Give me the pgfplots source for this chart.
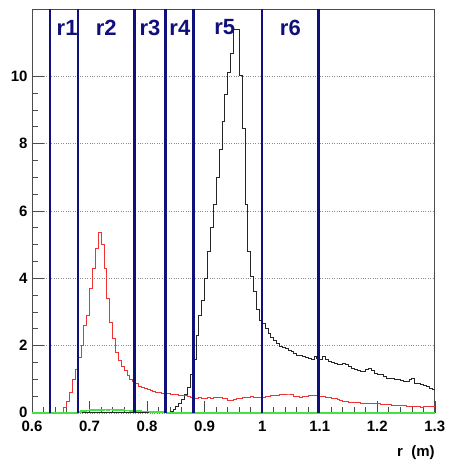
\documentclass[border=0pt]{standalone}
\usepackage{fontspec}
\setmainfont{Liberation Sans}
\usepackage{pgfplots}
\pgfplotsset{compat=1.18}
\definecolor{navyr}{RGB}{16,16,125}
\definecolor{rootred}{RGB}{240,50,50}
\definecolor{rootgreen}{RGB}{70,225,70}
\begin{document}
\begin{tikzpicture}
\begin{axis}[
  name=ax,
  scale only axis,
  width=403pt, height=404pt,
  xmin=0.6, xmax=1.3, ymin=0, ymax=12,
  axis line style={black!70, line width=0.8pt},
  xtick={0.6,0.7,0.8,0.9,1.0,1.1,1.2,1.3},
  xticklabels={0.6,0.7,0.8,0.9,1,1.1,1.2,1.3},
  ytick={0,2,4,6,8,10},
  yticklabels={0,2,4,6,8,10},
  minor x tick num=4,
  minor y tick num=3,
  tick align=inside,
  xtick pos=bottom, ytick pos=left,
  major tick length=12pt, minor tick length=6pt,
  tick style={black!70, line width=0.6pt},
  ymajorgrids,
  major grid style={black!45, dotted, line width=0.6pt},
  ticklabel style={font=\bfseries\fontsize{15}{15}\selectfont},
  xticklabel style={yshift=-5pt},
  yticklabel style={xshift=-1pt},
  clip=false,
]
% black histogram
\addplot[const plot, black!85, line width=0.8pt] table {
0.600 0
0.835 0.02
0.840 0.04
0.845 0.10
0.850 0.19
0.855 0.29
0.860 0.40
0.865 0.55
0.870 0.75
0.875 1.13
0.880 1.60
0.885 2.30
0.890 2.90
0.895 3.35
0.900 4.00
0.905 4.80
0.910 5.50
0.915 6.20
0.920 7.00
0.925 7.82
0.930 8.66
0.935 9.45
0.940 10.11
0.945 10.69
0.950 11.40
0.955 11.40
0.960 10.04
0.965 8.46
0.970 6.20
0.975 4.80
0.980 4.05
0.985 3.60
0.990 3.06
0.995 2.76
1.000 2.65
1.005 2.50
1.010 2.37
1.015 2.25
1.020 2.15
1.025 2.05
1.030 1.97
1.035 1.93
1.040 1.92
1.045 1.87
1.050 1.83
1.055 1.77
1.060 1.72
1.065 1.70
1.070 1.67
1.075 1.65
1.080 1.62
1.085 1.60
1.090 1.67
1.095 1.62
1.100 1.58
1.105 1.67
1.110 1.60
1.115 1.52
1.120 1.50
1.125 1.48
1.130 1.45
1.135 1.43
1.140 1.48
1.145 1.45
1.150 1.38
1.155 1.33
1.160 1.28
1.165 1.25
1.170 1.23
1.175 1.23
1.180 1.28
1.185 1.33
1.190 1.25
1.195 1.18
1.200 1.15
1.205 1.13
1.210 1.08
1.215 1.03
1.220 1.03
1.225 1.03
1.230 1.00
1.235 0.98
1.240 0.96
1.245 0.93
1.250 0.93
1.255 0.98
1.260 1.03
1.265 0.88
1.270 0.88
1.275 0.85
1.280 0.83
1.285 0.78
1.290 0.73
1.295 0.70
1.300 0.70
};
% red histogram
\addplot[const plot, rootred, line width=0.8pt] table {
0.600 0
0.655 0.15
0.660 0.35
0.665 0.60
0.670 1.00
0.675 1.30
0.680 1.65
0.685 2.00
0.690 2.60
0.695 2.90
0.700 3.70
0.705 4.30
0.710 4.90
0.715 5.36
0.720 5.00
0.725 4.30
0.730 3.40
0.735 2.70
0.740 2.20
0.745 1.80
0.750 1.55
0.755 1.38
0.760 1.25
0.765 1.12
0.770 1.00
0.775 0.93
0.780 0.86
0.785 0.80
0.790 0.76
0.795 0.73
0.800 0.70
0.805 0.66
0.810 0.63
0.815 0.61
0.820 0.60
0.825 0.59
0.830 0.58
0.835 0.57
0.840 0.56
0.845 0.55
0.850 0.54
0.855 0.53
0.860 0.52
0.865 0.51
0.870 0.48
0.875 0.45
0.880 0.44
0.885 0.44
0.890 0.45
0.895 0.44
0.900 0.43
0.905 0.45
0.910 0.44
0.915 0.46
0.920 0.47
0.925 0.45
0.930 0.44
0.935 0.42
0.940 0.38
0.945 0.37
0.950 0.40
0.955 0.43
0.960 0.44
0.965 0.45
0.970 0.46
0.975 0.47
0.980 0.48
0.985 0.47
0.990 0.46
0.995 0.46
1.000 0.47
1.005 0.49
1.010 0.50
1.015 0.51
1.020 0.52
1.025 0.53
1.030 0.54
1.035 0.55
1.040 0.56
1.045 0.56
1.050 0.54
1.055 0.50
1.060 0.49
1.065 0.47
1.070 0.48
1.075 0.50
1.080 0.52
1.085 0.53
1.090 0.52
1.095 0.53
1.100 0.50
1.105 0.48
1.110 0.47
1.115 0.46
1.120 0.44
1.125 0.43
1.130 0.40
1.135 0.36
1.140 0.34
1.145 0.33
1.150 0.31
1.155 0.31
1.160 0.30
1.165 0.30
1.170 0.29
1.175 0.29
1.180 0.28
1.185 0.28
1.190 0.27
1.195 0.27
1.200 0.27
1.205 0.26
1.210 0.25
1.215 0.24
1.220 0.24
1.225 0.23
1.230 0.22
1.235 0.22
1.240 0.21
1.245 0.21
1.250 0.20
1.255 0.20
1.260 0.19
1.265 0.19
1.270 0.18
1.275 0.17
1.280 0.19
1.285 0.20
1.290 0.20
1.295 0.20
1.300 0.20
};
% green histogram
\addplot[const plot, rootgreen, line width=1.6pt] table {
0.600 0
0.680 0.03
0.685 0.05
0.690 0.06
0.695 0.07
0.700 0.08
0.705 0.08
0.710 0.09
0.715 0.09
0.720 0.09
0.725 0.10
0.730 0.09
0.735 0.10
0.740 0.09
0.745 0.09
0.750 0.08
0.755 0.08
0.760 0.07
0.765 0.07
0.770 0.06
0.775 0.06
0.780 0.05
0.785 0.05
0.790 0.04
0.795 0.04
0.800 0.04
0.805 0.03
0.810 0.03
0.815 0.03
0.820 0.02
0.825 0.02
0.830 0.01
0.835 0
1.300 0
};
% region boundaries
\addplot[navyr, line width=2.5pt] coordinates {(0.631,0) (0.631,12)};
\addplot[navyr, line width=2.5pt] coordinates {(0.680,0) (0.680,12)};
\addplot[navyr, line width=2.5pt] coordinates {(0.778,0) (0.778,12)};
\addplot[navyr, line width=2.5pt] coordinates {(0.832,0) (0.832,12)};
\addplot[navyr, line width=2.5pt] coordinates {(0.881,0) (0.881,12)};
\addplot[navyr, line width=2.5pt] coordinates {(1.000,0) (1.000,12)};
\addplot[navyr, line width=2.5pt] coordinates {(1.098,0) (1.098,12)};
\begin{scope}[every node/.style={text=navyr, font=\bfseries\fontsize{22}{22}\selectfont}]
\node at (axis cs:0.661,11.45) {r1};
\node at (axis cs:0.729,11.45) {r2};
\node at (axis cs:0.805,11.45) {r3};
\node at (axis cs:0.857,11.45) {r4};
\node at (axis cs:0.935,11.45) {r5};
\node at (axis cs:1.049,11.45) {r6};
\end{scope}
\node[anchor=north east, font=\bfseries\fontsize{15}{15}\selectfont, inner sep=0pt] at ([yshift=-33pt]rel axis cs:1,0) {r\ \ (m)};
\end{axis}
\path ([xshift=-32pt,yshift=-47pt]ax.south west) rectangle ([xshift=6pt,yshift=9pt]ax.north east);
\end{tikzpicture}
\end{document}
